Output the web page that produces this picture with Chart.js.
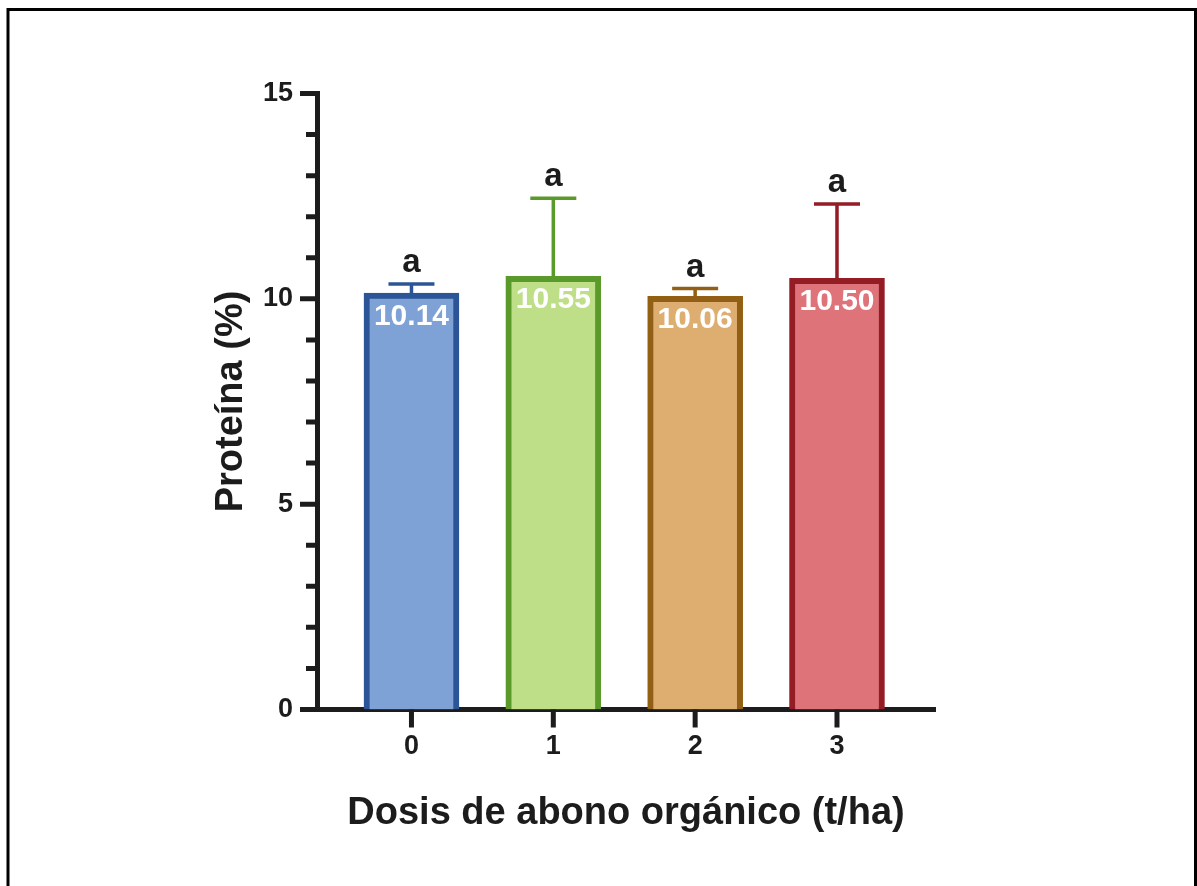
<!DOCTYPE html>
<html lang="es">
<head>
<meta charset="utf-8">
<title>Proteína (%)</title>
<script src="https://cdn.jsdelivr.net/npm/chart.js@4.4.0/dist/chart.umd.min.js"></script>
<style>
  html, body { margin: 0; padding: 0; background: #fff; }
  #wrap { width: 1197px; height: 886px; }
</style>
</head>
<body>
<div id="wrap"><canvas id="chart" width="1197" height="886"></canvas></div>
<script>
// dosis (t/ha), media de proteína y error (barra superior)
const doses = [0, 1, 2, 3];
const proteina = [10.14, 10.55, 10.06, 10.50];
const errorSup = [0.22, 1.90, 0.19, 1.81];
const letras = ["a", "a", "a", "a"];
const yMajor = [0, 5, 10, 15];
const yMinor = [1, 2, 3, 4, 6, 7, 8, 9, 11, 12, 13, 14];

const FILL = ["#7ea2d6", "#bedf88", "#ddae70", "#df737a"];
const EDGE = ["#2b5597", "#5a9a2a", "#935f15", "#931c25"];
const INK = "#1c1c1c";
const FONT = "'Liberation Sans', Arial, Helvetica, sans-serif";

// frame, tick marks, error bars and the text on/above the bars
const decor = {
  id: "decor",
  beforeDraw(chart) {
    const ctx = chart.ctx;
    ctx.save();
    ctx.strokeStyle = "#000";
    ctx.lineWidth = 3;
    ctx.beginPath();
    ctx.moveTo(8, chart.height);
    ctx.lineTo(8, 9.5);
    ctx.lineTo(1195.5, 9.5);
    ctx.lineTo(1195.5, chart.height);
    ctx.stroke();
    ctx.restore();
  },
  beforeDatasetsDraw(chart) {
    const ctx = chart.ctx;
    const ys = chart.scales.y;
    const bars = chart.getDatasetMeta(0).data;
    ctx.save();
    ctx.lineWidth = 3.5;
    bars.forEach((bar, i) => {
      const top = ys.getPixelForValue(proteina[i] + errorSup[i]);
      ctx.strokeStyle = EDGE[i];
      ctx.beginPath();
      ctx.moveTo(bar.x, ys.getPixelForValue(proteina[i]));
      ctx.lineTo(bar.x, top);
      ctx.moveTo(bar.x - 23, top);
      ctx.lineTo(bar.x + 23, top);
      ctx.stroke();
    });
    ctx.restore();
  },
  afterDraw(chart) {
    const ctx = chart.ctx;
    const xs = chart.scales.x, ys = chart.scales.y;
    const axisX = chart.chartArea.left;
    const axisY = chart.chartArea.bottom;
    ctx.save();
    ctx.strokeStyle = INK;
    ctx.lineWidth = 5;
    ctx.beginPath();
    yMajor.forEach(v => {
      const p = ys.getPixelForValue(v);
      ctx.moveTo(axisX - 17, p); ctx.lineTo(axisX, p);
    });
    yMinor.forEach(v => {
      const p = ys.getPixelForValue(v);
      ctx.moveTo(axisX - 11, p); ctx.lineTo(axisX, p);
    });
    doses.forEach(d => {
      const p = xs.getPixelForValue(d);
      ctx.moveTo(p, axisY); ctx.lineTo(p, axisY + 18);
    });
    ctx.stroke();

    const bars = chart.getDatasetMeta(0).data;
    ctx.textAlign = "center";
    ctx.textBaseline = "alphabetic";
    bars.forEach((bar, i) => {
      ctx.fillStyle = "#fff";
      ctx.font = "bold 30px " + FONT;
      ctx.fillText(proteina[i].toFixed(2), bar.x, bar.y + 32);
      ctx.fillStyle = INK;
      ctx.font = "bold 33px " + FONT;
      const top = ys.getPixelForValue(proteina[i] + errorSup[i]);
      ctx.fillText(letras[i], bar.x, top - 12);
    });
    ctx.restore();
  },
};

new Chart(document.getElementById("chart"), {
  type: "bar",
  data: {
    datasets: [{
      data: doses.map((d, i) => ({ x: d, y: proteina[i] })),
      backgroundColor: FILL,
      borderColor: EDGE,
      borderWidth: 6,
      borderSkipped: "start",
      barThickness: 95,
    }],
  },
  options: {
    responsive: false,
    animation: false,
    devicePixelRatio: 1,
    layout: { padding: { top: 93.5, right: 262, bottom: 0, left: 0 } },
    plugins: { legend: { display: false }, tooltip: { enabled: false } },
    scales: {
      x: {
        type: "linear",
        offset: false,
        min: -0.666,
        max: 3.691,
        afterBuildTicks: (s) => { s.ticks = doses.map(v => ({ value: v })); },
        afterFit: (s) => { s.height = 176.5; },
        grid: { display: false, drawTicks: false },
        border: { display: true, color: INK, width: 5 },
        ticks: {
          color: INK,
          padding: 21,
          font: { family: FONT, size: 27, weight: "bold" },
          callback: (v) => String(v),
        },
        title: {
          display: true,
          text: "Dosis de abono orgánico (t/ha)",
          color: INK,
          font: { family: FONT, size: 38, weight: "bold" },
          padding: { top: 0, bottom: 50 },
        },
      },
      y: {
        min: 0,
        max: 15,
        afterBuildTicks: (s) => { s.ticks = yMajor.map(v => ({ value: v })); },
        afterFit: (s) => { s.width = 317; },
        grid: { display: false, drawTicks: false },
        border: { display: true, color: INK, width: 5 },
        ticks: {
          color: INK,
          padding: 24,
          font: { family: FONT, size: 27, weight: "bold" },
        },
        title: {
          display: true,
          text: "Proteína (%)",
          color: INK,
          font: { family: FONT, size: 38, weight: "bold" },
          padding: { top: 209, bottom: 0 },
        },
      },
    },
  },
  plugins: [decor],
});
</script>
</body>
</html>
